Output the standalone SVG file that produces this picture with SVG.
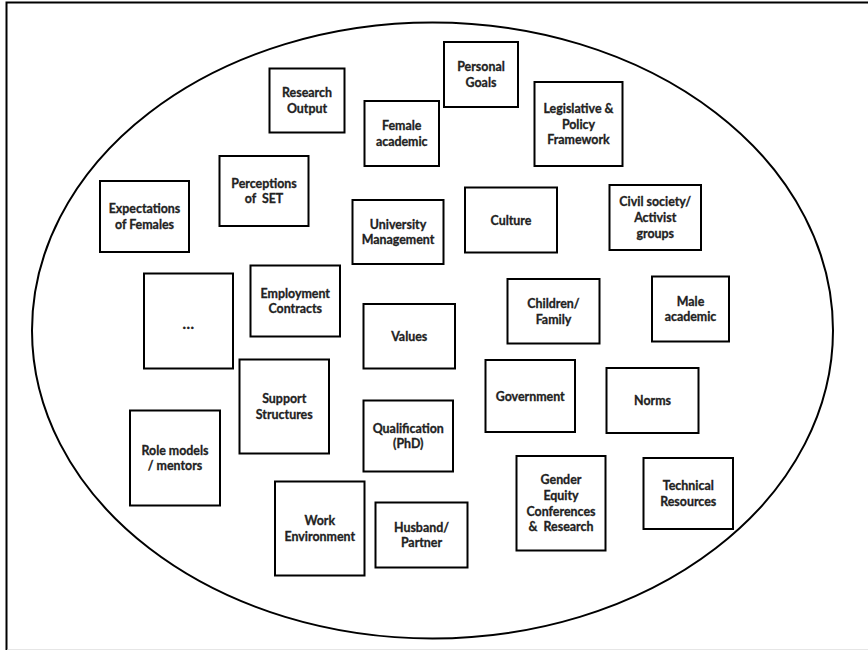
<svg xmlns="http://www.w3.org/2000/svg" width="868" height="650" viewBox="0 0 868 650">
<style>
.box{fill:#fff;stroke:#000;stroke-width:2}
.lbl{font-family:Lato,"Liberation Sans",sans-serif;font-weight:bold;font-size:12.4px;fill:#222;stroke:#222;stroke-width:0.3;text-anchor:middle}
.pre{white-space:pre}
</style>
<rect x="0" y="0" width="868" height="650" fill="#fff"/>
<rect x="6.5" y="2.5" width="900" height="700" fill="none" stroke="#000" stroke-width="2"/>
<line x1="7.5" y1="649.5" x2="868" y2="649.5" stroke="#e6e6e6" stroke-width="1"/>
<ellipse id="boundary" cx="432.5" cy="330.5" rx="400.5" ry="308" fill="none" stroke="#000" stroke-width="2"/>
<g id="connectors"></g>
<g id="research-output"><rect class="box" x="269.5" y="68.5" width="75" height="64"/><text class="lbl" x="307" y="97.1"><tspan x="307">Research</tspan><tspan x="307" dy="15.8">Output</tspan></text></g>
<g id="female-academic"><rect class="box" x="364.5" y="101" width="74.5" height="65"/><text class="lbl" x="401.75" y="130.1"><tspan x="401.75">Female</tspan><tspan x="401.75" dy="15.8">academic</tspan></text></g>
<g id="perceptions"><rect class="box" x="219.5" y="156" width="89" height="70"/><text class="lbl pre" x="264" y="187.6"><tspan x="264">Perceptions</tspan><tspan x="264" dy="15.8">of  SET</tspan></text></g>
<g id="expectations"><rect class="box" x="100" y="181" width="89" height="71"/><text class="lbl" x="144.5" y="213.1"><tspan x="144.5">Expectations</tspan><tspan x="144.5" dy="15.8">of Females</tspan></text></g>
<g id="university-management"><rect class="box" x="352.5" y="200" width="91" height="64"/><text class="lbl" x="398" y="228.6"><tspan x="398">University</tspan><tspan x="398" dy="15.8">Management</tspan></text></g>
<g id="personal-goals"><rect class="box" x="444" y="42" width="74" height="65"/><text class="lbl" x="481" y="71.1"><tspan x="481">Personal</tspan><tspan x="481" dy="15.8">Goals</tspan></text></g>
<g id="legislative"><rect class="box" x="534.5" y="82" width="88" height="84"/><text class="lbl" x="578.5" y="112.7"><tspan x="578.5">Legislative &amp;</tspan><tspan x="578.5" dy="15.8">Policy</tspan><tspan x="578.5" dy="15.8">Framework</tspan></text></g>
<g id="culture"><rect class="box" x="465" y="187.5" width="92" height="65"/><text class="lbl" x="511" y="224.5">Culture</text></g>
<g id="civil-society"><rect class="box" x="609.5" y="185" width="91.5" height="65"/><text class="lbl" x="655.25" y="206.2"><tspan x="655.25">Civil society/</tspan><tspan x="655.25" dy="15.8">Activist</tspan><tspan x="655.25" dy="15.8">groups</tspan></text></g>
<g id="more"><rect class="box" x="144" y="273.5" width="89" height="95"/><text class="lbl" x="188.5" y="329" style="font-size:15px;letter-spacing:0.5px">...</text></g>
<g id="employment-contracts"><rect class="box" x="250.5" y="265.5" width="89.5" height="71"/><text class="lbl" x="295.25" y="297.6"><tspan x="295.25">Employment</tspan><tspan x="295.25" dy="15.8">Contracts</tspan></text></g>
<g id="values"><rect class="box" x="363.5" y="304" width="91.5" height="64.5"/><text class="lbl" x="409.25" y="340.75">Values</text></g>
<g id="support-structures"><rect class="box" x="239.5" y="359.5" width="89.5" height="94"/><text class="lbl" x="284.25" y="403.1"><tspan x="284.25">Support</tspan><tspan x="284.25" dy="15.8">Structures</tspan></text></g>
<g id="qualification"><rect class="box" x="363.5" y="400.5" width="89.5" height="71"/><text class="lbl" x="408.25" y="432.6"><tspan x="408.25">Qualification</tspan><tspan x="408.25" dy="15.8">(PhD)</tspan></text></g>
<g id="children-family"><rect class="box" x="507.5" y="279" width="92" height="64.5"/><text class="lbl" x="553.5" y="307.85"><tspan x="553.5">Children/</tspan><tspan x="553.5" dy="15.8">Family</tspan></text></g>
<g id="male-academic"><rect class="box" x="652" y="276.5" width="77" height="65"/><text class="lbl" x="690.5" y="305.6"><tspan x="690.5">Male</tspan><tspan x="690.5" dy="15.8">academic</tspan></text></g>
<g id="government"><rect class="box" x="485.5" y="360" width="89.5" height="72"/><text class="lbl" x="530.25" y="400.5">Government</text></g>
<g id="norms"><rect class="box" x="606.5" y="368" width="92" height="65"/><text class="lbl" x="652.5" y="405">Norms</text></g>
<g id="role-models"><rect class="box" x="130" y="410.5" width="90" height="95"/><text class="lbl" x="175" y="454.6"><tspan x="175">Role models</tspan><tspan x="175" dy="15.8">/ mentors</tspan></text></g>
<g id="work-environment"><rect class="box" x="275" y="481.5" width="89.5" height="94"/><text class="lbl" x="319.75" y="525.1"><tspan x="319.75">Work</tspan><tspan x="319.75" dy="15.8">Environment</tspan></text></g>
<g id="husband-partner"><rect class="box" x="375.5" y="502.5" width="92" height="65"/><text class="lbl" x="421.5" y="531.6"><tspan x="421.5">Husband/</tspan><tspan x="421.5" dy="15.8">Partner</tspan></text></g>
<g id="gender-equity"><rect class="box" x="516.5" y="456" width="89" height="94.5"/><text class="lbl pre" x="561" y="484.05"><tspan x="561">Gender</tspan><tspan x="561" dy="15.8">Equity</tspan><tspan x="561" dy="15.8">Conferences</tspan><tspan x="561" dy="15.8">&amp;  Research</tspan></text></g>
<g id="technical-resources"><rect class="box" x="643.5" y="458" width="89.5" height="71"/><text class="lbl" x="688.25" y="490.1"><tspan x="688.25">Technical</tspan><tspan x="688.25" dy="15.8">Resources</tspan></text></g>
</svg>
